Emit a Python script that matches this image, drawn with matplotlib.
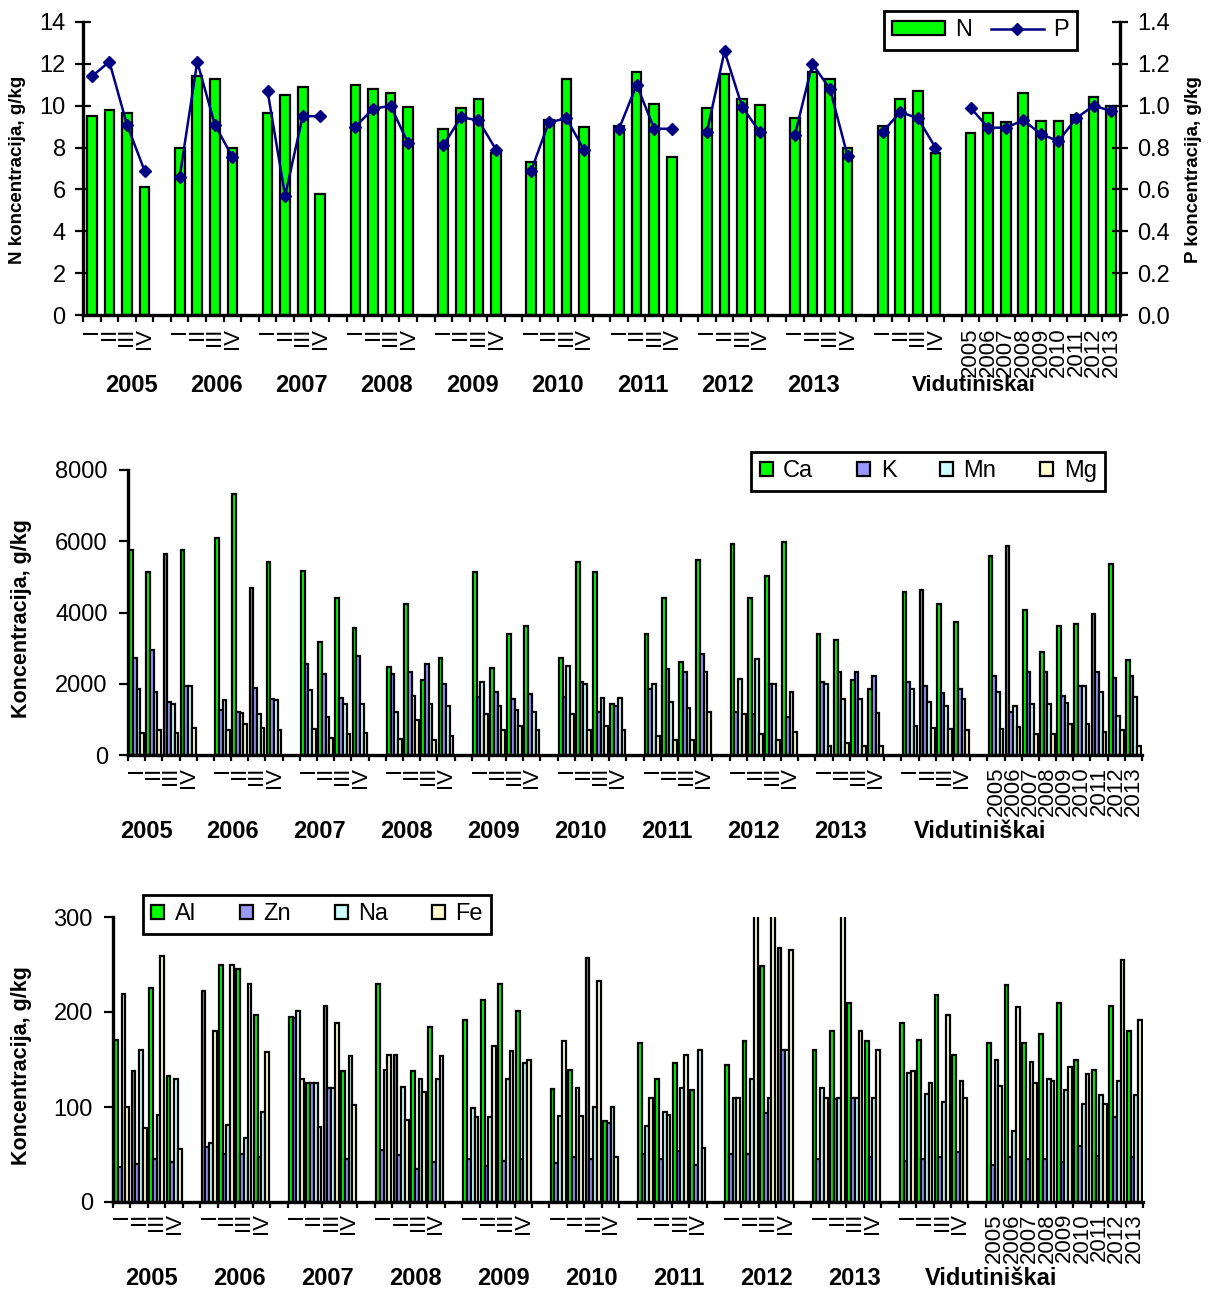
import numpy as np
import matplotlib
matplotlib.use('Agg')
import matplotlib.pyplot as plt
from matplotlib.patches import Patch
from matplotlib.lines import Line2D
from matplotlib.font_manager import FontProperties
from matplotlib.transforms import offset_copy

plt.rcParams['font.family'] = ['Liberation Sans', 'DejaVu Sans']

quarters = ['I', 'II', 'III', 'IV']
years = ['2005', '2006', '2007', '2008', '2009', '2010', '2011', '2012', '2013']

# order: 9 years x 4 quarters, quarterly averages (4), yearly averages (9)
N = [9.5, 9.8, 9.65, 6.1,   8.0, 11.4, 11.3, 8.0,   9.65, 10.5, 10.9, 5.8,
     11.0, 10.8, 10.6, 9.95,  8.9, 9.9, 10.3, 7.75,  7.3, 9.3, 11.3, 9.0,
     9.05, 11.6, 10.1, 7.55,  9.9, 11.5, 10.3, 10.05,  9.4, 11.6, 11.3, 8.0,
     9.05, 10.3, 10.7, 7.75,
     8.7, 9.65, 9.2, 10.6, 9.25, 9.25, 9.55, 10.4, 10.0]
P = [1.14, 1.21, 0.91, 0.69,  0.66, 1.21, 0.91, 0.755,  1.07, 0.57, 0.95, 0.95,
     0.90, 0.985, 1.0, 0.82,  0.81, 0.945, 0.93, 0.79,  0.69, 0.92, 0.94, 0.79,
     0.89, 1.10, 0.89, 0.89,  0.875, 1.26, 0.995, 0.875,  0.86, 1.20, 1.08, 0.76,
     0.875, 0.97, 0.94, 0.80,
     0.99, 0.895, 0.895, 0.93, 0.865, 0.83, 0.94, 1.0, 0.975]

Ca = [5755, 5128, 5642, 5755,  6082, 7327, 4697, 5408,  5174, 3163, 4416, 3556,
      2480, 4238, 2105, 2714,  5128, 2452, 3406, 3630,  2732, 5408, 5128, 1432,
      3406, 4416, 2620, 5474,  5914, 4416, 5025, 5970,  3397, 3228, 2105, 1843,
      4566, 4632, 4239, 3724,
      5586, 5867, 4070, 2901, 3630, 3677, 3958, 5361, 2667]
K = [2713, 2947, 1478, 1937,  1263, 1216, 1890, 1563,  2545, 2274, 1591, 2779,
     2274, 2339, 2555, 1993,  1637, 1778, 1563, 1712,  1637, 2040, 1216, 1375,
     1843, 2405, 2320, 2835,  1216, 1151, 1993, 1057,  2040, 2339, 2339, 2218,
     2059, 1946, 1731, 1843,
     2218, 1198, 2339, 2339, 1656, 1946, 2339, 2152, 2218]
Mn = [1843, 1778, 1432, 1937,  1544, 1188, 1141, 1544,  1825, 1057, 1430, 1432,
      1198, 1656, 1432, 1375,  2040, 1375, 1263, 1198,  2498, 1993, 1609, 1609,
      1993, 1497, 1329, 2339,  2124, 2686, 1993, 1759,  1993, 1563, 1563, 1170,
      1843, 1497, 1375, 1563,
      1778, 1375, 1432, 1432, 1469, 1946, 1778, 1095, 1619]
Mg = [627, 700, 627, 750,  700, 860, 767, 700,  720, 468, 590, 627,
      440, 982, 421, 533,  1151, 700, 814, 700,  1151, 700, 814, 700,
      543, 421, 421, 1198,  1151, 590, 421, 655,  253, 328, 253, 253,
      823, 767, 720, 700,
      720, 777, 590, 590, 870, 861, 655, 700, 253]

Al = [171, 138, 225, 133,  222, 250, 245, 197,  195, 125, 206, 138,
      229, 155, 138, 184,  192, 213, 230, 201,  119, 139, 257, 85,
      167, 130, 146, 118,  144, 169, 248, 267,  160, 180, 209, 169,
      188, 171, 218, 155,
      167, 228, 167, 177, 209, 150, 139, 206, 180]
Zn = [37, 40, 45, 42,  58, 51, 51, 47,  194, 125, 120, 45,
      55, 50, 35, 42,  45, 38, 43, 45,  41, 47, 45, 83,
      51, 45, 54, 39,  51, 51, 94, 160,  45, 108, 110, 47,
      43, 45, 47, 53,
      39, 47, 45, 45, 42, 59, 48, 90, 47]
Na = [219, 160, 92, 130,  62, 81, 67, 95,  201, 125, 120, 154,
      139, 121, 130, 130,  99, 90, 130, 146,  91, 120, 100, 100,
      80, 95, 120, 160,  110, 130, 110, 160,  120, 110, 110, 110,
      136, 114, 105, 127,
      150, 75, 147, 130, 118, 103, 113, 127, 113]
Fe = [100, 78, 259, 56,  180, 250, 230, 158,  130, 79, 188, 102,
      155, 86, 116, 154,  90, 164, 159, 150,  169, 91, 233, 47,
      110, 92, 155, 57,  110, 320, 310, 265,  110, 330, 180, 160,
      138, 125, 197, 110,
      122, 205, 125, 127, 142, 135, 103, 255, 192]

GREEN = '#00FF00'
BLUE = '#9999FF'
CYAN = '#CCFFFF'
YELLOW = '#FFFFCC'
NAVY = '#000080'

W, H = 1208, 1293

# every block of four quarters is followed by one empty slot
pos = np.array([i // 4 * 5 + i % 4 for i in range(40)] + [50 + j for j in range(len(years))])
n_cat = 50 + len(years)
segments = [(g * 4, g * 4 + 4) for g in range(10)] + [(40, 40 + len(years))]

fig = plt.figure(figsize=(W / 100, H / 100), dpi=100)
renderer = fig.canvas.get_renderer()
TICK_FS = 16
_, lp_h, lp_d = renderer.get_text_width_height_descent(
    'lp', FontProperties(family=plt.rcParams['font.family'], size=TICK_FS), ismath=False)


def box(left, right, top, bottom):
    return [left / W, 1 - bottom / H, (right - left) / W, (bottom - top) / H]


def x_axis(ax, tick_len, pad, first, step, avg_x, avg_text, avg_fs, lab_y):
    ax.set_xlim(-0.5, n_cat - 0.5)
    ax.set_xticks(np.arange(n_cat + 1) - 0.5)
    ax.set_xticklabels([])
    ax.tick_params(axis='x', which='major', direction='out', length=tick_len, width=1.6)
    # category names: one rotated multi-line text per block, one line per category
    cat_px = ax.get_position().width * W / n_cat
    spacing = (cat_px - lp_d) / (lp_h - lp_d)
    tr = offset_copy(ax.get_xaxis_transform(), fig=fig, y=-pad, units='points')
    blocks = [(g * 5 + 1.5, quarters) for g in range(10)] + [(50 + (len(years) - 1) / 2, years)]
    for xc, names in blocks:
        ax.text(xc, 0, '\n'.join(names), transform=tr, rotation=90, ha='center', va='top',
                multialignment='right', linespacing=spacing, fontsize=TICK_FS)
    tr = ax.get_xaxis_transform()
    for k, yr in enumerate(years):
        ax.text(first + k * step, lab_y, yr, transform=tr, ha='center', va='center',
                fontsize=17, fontweight='bold')
    ax.text(avg_x, lab_y, avg_text, transform=tr, ha='center', va='center',
            fontsize=avg_fs, fontweight='bold')


def spines(ax, show):
    for s in ['left', 'right', 'top', 'bottom']:
        ax.spines[s].set_visible(s in show)
        ax.spines[s].set_linewidth(2.4)


# ---------------- N and P ----------------
ax1 = fig.add_axes(box(83, 1120, 22, 315))
ax1.bar(pos, N, 0.55, color=GREEN, edgecolor='black', linewidth=1.6, zorder=2)
ax1.set_ylim(0, 14)
ax1.set_yticks(np.arange(0, 15, 2))
ax1.tick_params(axis='y', direction='inout', length=11, width=1.6, labelsize=17, pad=7)
spines(ax1, ['left', 'bottom'])
x_axis(ax1, 5, 9, 2.24, 4.85, 50.2, 'Vidutiniskai', 16, -0.239)

ax1b = ax1.twinx()
for s, e in segments:
    ax1b.plot(pos[s:e], P[s:e], color=NAVY, lw=1.8, marker='D', ms=6.5)
ax1b.set_ylim(0, 1.4)
ax1b.set_yticks(np.arange(0, 1.41, 0.2))
ax1b.set_yticklabels(['%.1f' % v for v in np.arange(0, 1.41, 0.2)])
ax1b.tick_params(axis='y', direction='inout', length=11, width=1.6, labelsize=17, pad=7)
spines(ax1b, ['right'])

leg1 = ax1b.legend([Patch(facecolor=GREEN, edgecolor='black', linewidth=1.6),
                    Line2D([], [], color=NAVY, lw=1.8, marker='D', ms=6.5)],
                   ['N', 'P'], ncol=2, loc='upper right',
                   bbox_to_anchor=(1077 / W, 1 - 11 / H), bbox_transform=fig.transFigure,
                   fontsize=17, handlelength=2.25, handleheight=0.55, handletextpad=0.4,
                   columnspacing=0.8, borderaxespad=0, fancybox=False, framealpha=1,
                   borderpad=0.35)
leg1.get_frame().set_edgecolor('black')
leg1.get_frame().set_linewidth(2)

fig.text(18 / W, 1 - 170 / H, 'N koncentracija, g/kg', rotation=90, ha='center', va='center',
         fontsize=13.5, fontweight='bold')
fig.text(1193 / W, 1 - 170 / H, 'P koncentracija, g/kg', rotation=90, ha='center', va='center',
         fontsize=13.5, fontweight='bold')


def grouped(ax, series, colors):
    w = 0.215
    offs = (np.arange(len(series)) - (len(series) - 1) / 2) * w
    for vals, col, off in zip(series, colors, offs):
        ax.bar(pos + off, vals, w, color=col, edgecolor='black', linewidth=1.6, zorder=2)


def legend4(ax, names, colors, anchor, loc):
    handles = [Patch(facecolor=c, edgecolor='black', linewidth=1.6) for c in colors]
    leg = ax.legend(handles, names, ncol=4, loc=loc, bbox_to_anchor=anchor,
                    bbox_transform=fig.transFigure, fontsize=17, handlelength=0.55,
                    handleheight=0.55, handletextpad=0.45, columnspacing=1.85,
                    borderaxespad=0, fancybox=False, framealpha=1, borderpad=0.35)
    leg.get_frame().set_edgecolor('black')
    leg.get_frame().set_linewidth(2)


colors4 = [GREEN, BLUE, CYAN, YELLOW]

# ---------------- Ca, K, Mn, Mg ----------------
ax2 = fig.add_axes(box(128, 1142, 470, 755))
grouped(ax2, [Ca, K, Mn, Mg], colors4)
ax2.set_ylim(0, 8000)
ax2.set_yticks(np.arange(0, 8001, 2000))
ax2.tick_params(axis='y', direction='out', length=6.5, width=1.6, labelsize=17, pad=8)
spines(ax2, ['left', 'bottom'])
x_axis(ax2, 4, 8.5, 0.55, 5.05, 49.1, 'Vidutiniškai', 17, -0.27)
legend4(ax2, ['Ca', 'K', 'Mn', 'Mg'], colors4, (1105 / W, 1 - 452 / H), 'upper right')
fig.text(22 / W, 1 - 619 / H, 'Koncentracija, g/kg', rotation=90, ha='center', va='center',
         fontsize=15.5, fontweight='bold')

# ---------------- Al, Zn, Na, Fe ----------------
ax3 = fig.add_axes(box(113, 1143, 917, 1202))
grouped(ax3, [Al, Zn, Na, Fe], colors4)
ax3.set_ylim(0, 300)
ax3.set_yticks([0, 100, 200, 300])
ax3.tick_params(axis='y', direction='out', length=6.5, width=1.6, labelsize=17, pad=8)
spines(ax3, ['left', 'bottom'])
x_axis(ax3, 4, 8, 1.73, 5.03, 49.8, 'Vidutiniškai', 17, -0.27)
legend4(ax3, ['Al', 'Zn', 'Na', 'Fe'], colors4, (143 / W, 1 - 895 / H), 'upper left')
fig.text(22 / W, 1 - 1066 / H, 'Koncentracija, g/kg', rotation=90, ha='center', va='center',
         fontsize=15.5, fontweight='bold')

fig.savefig('out.png', dpi=100)
